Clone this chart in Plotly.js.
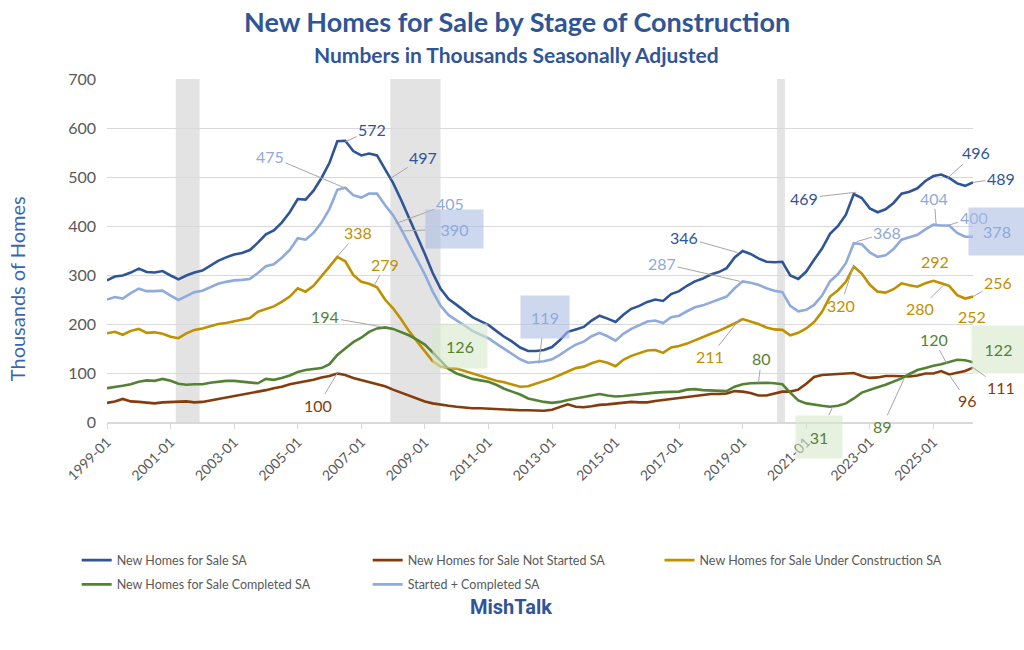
<!DOCTYPE html>
<html>
<head>
<meta charset="utf-8">
<script src="https://cdn.plot.ly/plotly-3.0.1.min.js"></script>
<style>
  body { margin: 0; background: #fff; }
  #chart { width: 1024px; height: 650px; }
</style>
</head>
<body>
<div id="chart"></div>
<script>
// quarterly readings, 1999-01 .. 2026-04
var dates = [];
for (var yr = 1999; yr <= 2026; yr++) {
  ['01', '04', '07', '10'].forEach(function (m) {
    if (yr === 2026 && m > '04') return;
    dates.push(yr + '-' + m + '-01');
  });
}

var notStarted = [
  39, 42, 47, 42,   41, 39, 38, 40,   41, 42, 42, 40,   41, 44, 47, 50,
  53, 55, 59, 62,   65, 69, 72, 77,   80, 82, 86, 91,   94, 99, 96, 90,
  86, 82, 78, 73,   66, 60, 53, 47,   42, 38, 35, 33,   31, 29, 28, 28,
  27, 26, 25, 25,   24, 24, 23, 23,   25, 30, 36, 31,   30, 32, 35, 36,
  38, 39, 41, 40,   40, 43, 45, 47,   50, 52, 53, 55,   57, 57, 58, 63,
  62, 59, 54, 54,   58, 62, 62, 66,   78, 92, 96, 97,   98, 99, 100, 94,
  90, 91, 94, 94,   94, 93, 95, 99,   99, 104, 97, 101, 104, 111
];

var underConstruction = [
  181, 184, 178, 186,  190, 182, 183, 180,  174, 171, 181, 188,  191, 195, 200, 202,
  205, 208, 212, 225,  230, 236, 245, 256,  273, 266, 278, 297,  317, 337, 328, 300,
  286, 282, 275, 250,  232, 210, 186, 165,  143, 124, 113, 110,  109, 104, 98, 93,
  89, 84, 81, 77,      72, 73, 78, 83,      89, 96, 103, 110,    113, 120, 125, 121,
  114, 127, 135, 140,  146, 147, 141, 152,  155, 160, 167, 173,  180, 186, 193, 201,
  210, 205, 200, 193,  189, 188, 177, 182,  191, 204, 225, 256,  269, 286, 317, 303,
  280, 266, 264, 271,  283, 279, 276, 283,  288, 283, 278, 259,  252, 256
];

var completed = [
  69, 71, 74, 77,      82, 85, 84, 88,      84, 78, 76, 77,      77, 80, 82, 84,
  84, 82, 80, 79,      88, 86, 90, 95,      102, 106, 108, 110,  118, 137, 150, 163,
  172, 184, 191, 193,  190, 184, 177, 168,  158, 142, 124, 108,  99, 93, 88, 85,
  82, 76, 68, 62,      56, 48, 44, 41,      39, 41, 45, 48,      51, 55, 57, 54,
  52, 53, 55, 57,      59, 60, 61, 62,      62, 66, 67, 65,      64, 63, 63, 72,
  77, 79, 80, 80,      79, 77, 60, 44,      38, 35, 33, 31,      33, 38, 48, 60,
  66, 71, 76, 82,      89, 98, 106, 110,    115, 118, 123, 127,  126, 122
];

var total = notStarted.map(function (v, i) { return v + underConstruction[i] + completed[i]; });
var startedCompleted = underConstruction.map(function (v, i) { return v + completed[i]; });

var recessionStart = ['2001-03-01', '2007-12-01', '2020-02-01'];
var recessionEnd = ['2001-11-30', '2009-06-30', '2020-04-30'];

var seriesNames = [
  'New Homes for Sale SA',
  'New Homes for Sale Not Started SA',
  'New Homes for Sale Under Construction SA',
  'New Homes for Sale Completed SA',
  'Started + Completed SA'
];

var cBlue = '#2F5597', cBrown = '#843C0C', cGold = '#BF9000', cGreen = '#548235', cLight = '#8FAADC';
var fontFam = 'Lato, "Open Sans", sans-serif';

function line(y, name, color, legendId) {
  return {
    x: dates, y: y, name: name, type: 'scatter', mode: 'lines',
    line: { color: color, width: 2.6 }, hoverinfo: 'skip',
    legend: legendId, legendgroup: name
  };
}

// legend laid out in three columns, as in the Excel original
var traces = [
  line(total, seriesNames[0], cBlue, 'legend'),
  line(notStarted, seriesNames[1], cBrown, 'legend2'),
  line(underConstruction, seriesNames[2], cGold, 'legend3'),
  line(completed, seriesNames[3], cGreen, 'legend'),
  line(startedCompleted, seriesNames[4], cLight, 'legend2')
];

var boxBlue = 'rgba(172,190,226,0.6)';
var boxGreen = 'rgba(214,232,202,0.6)';

// callout: point (date, value), text offset in px, optional highlight box
function callout(d, v, dx, dy, color, box, w, h) {
  var a = {
    x: d, y: v, xref: 'x', yref: 'y', text: String(v),
    showarrow: true, arrowhead: 0, arrowwidth: 1, arrowcolor: '#A6A6A6',
    ax: dx, ay: dy, standoff: 0,
    font: { family: fontFam, size: 16, color: color }
  };
  if (box) { a.bgcolor = box; a.width = w; a.height = h; }
  return a;
}
function plain(d, v, dx, dy, color) {
  return {
    x: d, y: v, xref: 'x', yref: 'y', text: String(v), showarrow: false,
    xshift: dx, yshift: -dy, font: { family: fontFam, size: 16, color: color }
  };
}

var annotations = [
  callout('2006-07-01', 572, 27, -12, cBlue),
  callout('2007-12-01', 497, 33, -21, cBlue),
  callout('2006-08-01', 475, -78, -33, cLight),
  callout('2008-02-01', 405, 54, -20, cLight),
  callout('2008-05-01', 390, 51, -2, cLight, boxBlue, 55, 36),
  callout('2006-04-01', 338, 21, -24, cGold),
  callout('2007-06-01', 279, 11, -21, cGold),
  callout('2007-09-01', 194, -57, -10, cGreen),
  callout('2006-04-01', 100, -19, 32, cBrown),
  callout('2009-06-01', 126, 22, -14, cGreen, boxGreen, 52, 42),
  callout('2012-08-01', 119, 6, -47, cLight, boxBlue, 46, 40),
  callout('2018-11-01', 346, -53, -15, cBlue),
  callout('2018-12-01', 287, -78, -18, cLight),
  callout('2018-12-01', 211, -30, 38, cGold),
  callout('2019-07-01', 80, 3, -24, cGreen),
  callout('2022-08-01', 469, -52, 6, cBlue),
  callout('2022-08-01', 368, 31, -9, cLight),
  callout('2022-07-01', 320, -13, 40, cGold),
  callout('2025-02-01', 404, -2, -26, cLight),
  callout('2025-06-01', 400, 27, -9, cLight),
  callout('2026-04-01', 378, 24, -5, cLight, boxBlue, 54, 45),
  callout('2025-06-01', 496, 29, -26, cBlue),
  callout('2026-04-01', 489, 28, -4, cBlue),
  plain('2025-01-01', 292, 2, -17, cGold),
  callout('2025-05-01', 280, -24, 24, cGold),
  callout('2026-04-01', 256, 25, -14, cGold),
  plain('2026-01-01', 252, 7, 18, cGold),
  callout('2025-06-01', 120, -13, -24, cGreen),
  callout('2026-04-01', 122, 25, -13, cGreen, boxGreen, 51, 45),
  callout('2026-04-01', 111, 28, 20, cBrown),
  callout('2025-07-01', 96, 18, 26, cBrown),
  callout('2024-02-01', 89, -22, 48, cGreen),
  callout('2021-11-01', 31, -14, 30, cGreen, boxGreen, 44, 40),
  {
    text: 'Numbers in Thousands Seasonally Adjusted', xref: 'paper', yref: 'paper',
    x: 0.473, y: 1.07, yanchor: 'middle', showarrow: false,
    font: { family: fontFam, size: 21, color: cBlue, weight: 'bold' }
  },
  {
    text: 'Thousands of Homes', xref: 'paper', yref: 'paper',
    x: -0.104, y: 0.39, xanchor: 'center', yanchor: 'middle', textangle: -90,
    showarrow: false, font: { family: fontFam, size: 20, color: '#3D65AE' }
  },
  {
    text: '<b>MishTalk</b>', xref: 'paper', yref: 'paper', x: 0.466, y: -0.539,
    yanchor: 'middle', showarrow: false,
    font: { family: '"Liberation Sans Narrow", "Roboto", sans-serif', size: 20, color: cBlue }
  }
];

var shapes = recessionStart.map(function (s, i) {
  return {
    type: 'rect', xref: 'x', yref: 'y', x0: s, x1: recessionEnd[i], y0: 0, y1: 700,
    fillcolor: '#E3E3E3', line: { width: 0 }, layer: 'below'
  };
});

function legendCol(x) {
  return {
    orientation: 'v', x: x, y: -0.36, xanchor: 'left', yanchor: 'top',
    traceorder: 'grouped', tracegroupgap: 5, bgcolor: 'rgba(0,0,0,0)',
    font: { family: fontFam, size: 12.5, color: '#595959' }
  };
}

var layout = {
  width: 1024, height: 650,
  margin: { l: 107, r: 51, t: 79, b: 228 },
  paper_bgcolor: '#fff', plot_bgcolor: '#fff',
  title: {
    text: 'New Homes for Sale by Stage of Construction',
    x: 0.505, y: 0.965, xanchor: 'center', yanchor: 'middle',
    font: { family: fontFam, size: 27, color: cBlue, weight: 'bold' }
  },
  xaxis: {
    type: 'date', range: ['1999-01-01', '2026-04-01'],
    tick0: '1999-01-01', dtick: 'M24', tickformat: '%Y-%m', tickangle: -45,
    ticks: 'outside', ticklen: 5, tickcolor: '#D9D9D9',
    showline: true, linecolor: '#D9D9D9', linewidth: 1.5,
    showgrid: false, zeroline: false,
    tickfont: { family: fontFam, size: 14, color: '#595959' }
  },
  yaxis: {
    range: [0, 700], dtick: 100, gridcolor: '#D9D9D9', zeroline: false,
    tickfont: { family: fontFam, size: 16, color: '#595959' },
    ticks: '', ticklabelstandoff: 10
  },
  legend: legendCol(-0.035),
  legend2: legendCol(0.301),
  legend3: legendCol(0.638),
  showlegend: true,
  shapes: shapes,
  annotations: annotations
};

Plotly.newPlot('chart', traces, layout, { displayModeBar: false, staticPlot: true });
</script>
</body>
</html>
